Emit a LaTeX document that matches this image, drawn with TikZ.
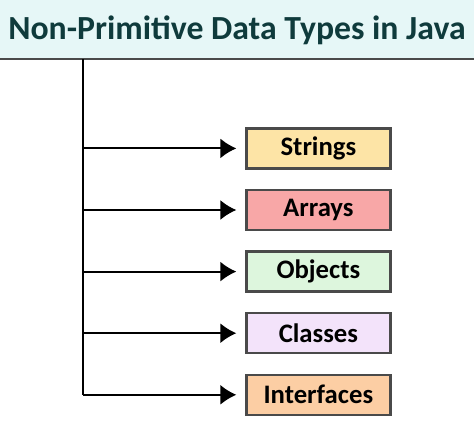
\documentclass[tikz,border=0pt]{standalone}
\usepackage{fontspec}
\setmainfont{Carlito}
\usepackage{xcolor}
\usetikzlibrary{positioning, arrows.meta}

\definecolor{titleband}{HTML}{E6F7F7}
\definecolor{titletext}{HTML}{0F3B3C}
\definecolor{boxline}{HTML}{4A4A4A}
\definecolor{strfill}{HTML}{FDE4A6}
\definecolor{arrfill}{HTML}{F8A7A7}
\definecolor{objfill}{HTML}{DDF6DD}
\definecolor{clsfill}{HTML}{F3E3FA}
\definecolor{intfill}{HTML}{FCCEA4}

\begin{document}
\begin{tikzpicture}[typebox/.style={
                rectangle,
                draw=boxline,
                line width=0.6mm,
                minimum width=3.6cm,
                minimum height=1.0cm,
                font=\fontsize{19}{21}\selectfont\bfseries,
        },
        branch/.style={
                line width=0.5mm,
                -{Latex[length=4mm, width=5mm]},
                shorten >=0.22cm,
        }]
            \useasboundingbox (0, 0) rectangle (11.85, -11.075);
            % title band
            \fill[titleband] (0, 0) rectangle (11.85, -1.475);
            \draw[boxline, line width=0.6mm] (0, -1.475) -- (11.85, -1.475);
            \node[anchor=base, text=titletext, font=\fontsize{24}{26}\selectfont\bfseries] (title) at (5.925, -0.98) {Non-Primitive Data Types in Java};

            % the five types
            \node[typebox, fill=strfill] (strings) at (7.96, -3.71) {Strings};
            \node[typebox, fill=arrfill, below=0.48cm of strings] (arrays) {Arrays};
            \node[typebox, fill=objfill, below=0.48cm of arrays] (objects) {Objects};
            \node[typebox, fill=clsfill, below=0.48cm of objects] (classes) {Classes};
            \node[typebox, fill=intfill, below=0.48cm of classes] (interfaces) {Interfaces};

            % trunk
            \coordinate (top) at (2.075, -1.475);
            \coordinate (bottom) at (top |- interfaces);
            \draw[line width=0.5mm] (top) -- (bottom);
            \foreach \t in {strings, arrays, objects, classes, interfaces}
                \draw[branch] (top |- \t) -- (\t.west);
        \end{tikzpicture}
\end{document}
